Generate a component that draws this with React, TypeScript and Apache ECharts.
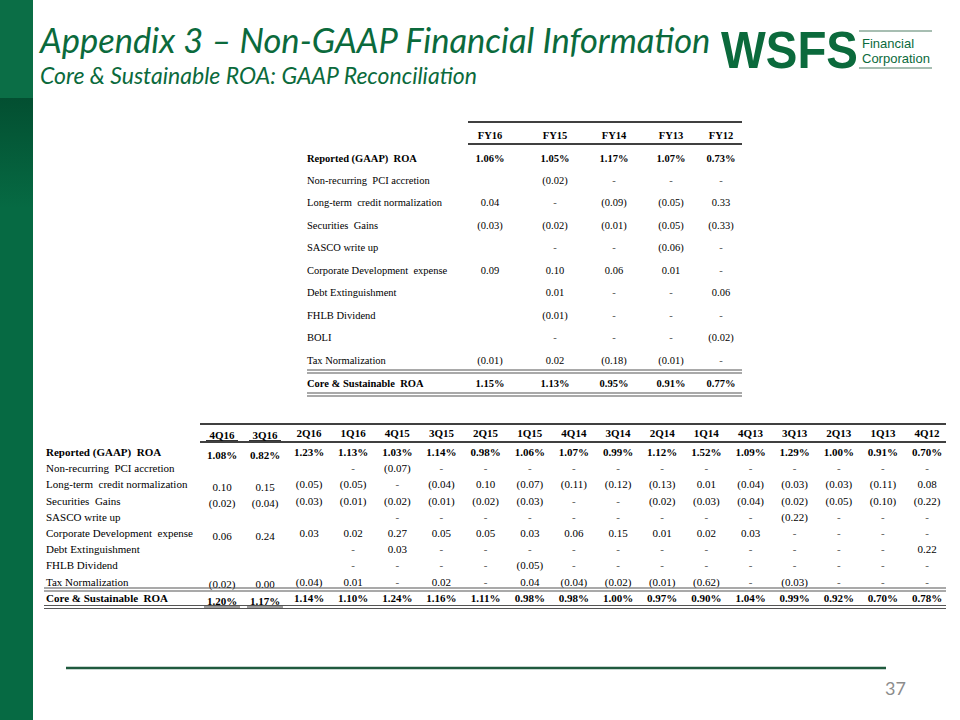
import React, { useEffect, useRef } from "react";
import * as echarts from "echarts";

const titleText = "Appendix 3 – Non-GAAP Financial Information";
const subtitleText = "Core & Sustainable ROA: GAAP Reconciliation";
const pageNumber = "37";

const annualColumns = ["FY16", "FY15", "FY14", "FY13", "FY12"];
const annualRowLabels = [
  "Reported (GAAP)  ROA",
  "Non-recurring  PCI accretion",
  "Long-term  credit normalization",
  "Securities  Gains",
  "SASCO write up",
  "Corporate Development  expense",
  "Debt Extinguishment",
  "FHLB Dividend",
  "BOLI",
  "Tax Normalization",
  "Core & Sustainable  ROA",
];
const annualReported = ["1.06%", "1.05%", "1.17%", "1.07%", "0.73%"];
const annualPci = ["", "(0.02)", "-", "-", "-"];
const annualCredit = ["0.04", "-", "(0.09)", "(0.05)", "0.33"];
const annualSecurities = ["(0.03)", "(0.02)", "(0.01)", "(0.05)", "(0.33)"];
const annualSasco = ["", "-", "-", "(0.06)", "-"];
const annualCorpDev = ["0.09", "0.10", "0.06", "0.01", "-"];
const annualDebt = ["", "0.01", "-", "-", "0.06"];
const annualFhlb = ["", "(0.01)", "-", "-", "-"];
const annualBoli = ["", "-", "-", "-", "(0.02)"];
const annualTax = ["(0.01)", "0.02", "(0.18)", "(0.01)", "-"];
const annualCore = ["1.15%", "1.13%", "0.95%", "0.91%", "0.77%"];

const quarterColumns = [
  "4Q16", "3Q16", "2Q16", "1Q16", "4Q15", "3Q15", "2Q15", "1Q15", "4Q14",
  "3Q14", "2Q14", "1Q14", "4Q13", "3Q13", "2Q13", "1Q13", "4Q12",
];
const quarterRowLabels = [
  "Reported (GAAP)  ROA",
  "Non-recurring  PCI accretion",
  "Long-term  credit normalization",
  "Securities  Gains",
  "SASCO write up",
  "Corporate Development  expense",
  "Debt Extinguishment",
  "FHLB Dividend",
  "Tax Normalization",
  "Core & Sustainable  ROA",
];
const quarterReported = ["1.08%", "0.82%", "1.23%", "1.13%", "1.03%", "1.14%", "0.98%", "1.06%", "1.07%", "0.99%", "1.12%", "1.52%", "1.09%", "1.29%", "1.00%", "0.91%", "0.70%"];
const quarterPci = ["", "", "", "-", "(0.07)", "-", "-", "-", "-", "-", "-", "-", "-", "-", "-", "-", "-"];
const quarterCredit = ["0.10", "0.15", "(0.05)", "(0.05)", "-", "(0.04)", "0.10", "(0.07)", "(0.11)", "(0.12)", "(0.13)", "0.01", "(0.04)", "(0.03)", "(0.03)", "(0.11)", "0.08"];
const quarterSecurities = ["(0.02)", "(0.04)", "(0.03)", "(0.01)", "(0.02)", "(0.01)", "(0.02)", "(0.03)", "-", "-", "(0.02)", "(0.03)", "(0.04)", "(0.02)", "(0.05)", "(0.10)", "(0.22)"];
const quarterSasco = ["", "", "", "", "-", "-", "-", "-", "-", "-", "-", "-", "-", "(0.22)", "-", "-", "-"];
const quarterCorpDev = ["0.06", "0.24", "0.03", "0.02", "0.27", "0.05", "0.05", "0.03", "0.06", "0.15", "0.01", "0.02", "0.03", "-", "-", "-", "-"];
const quarterDebt = ["", "", "", "-", "0.03", "-", "-", "-", "-", "-", "-", "-", "-", "-", "-", "-", "0.22"];
const quarterFhlb = ["", "", "", "-", "-", "-", "-", "(0.05)", "-", "-", "-", "-", "-", "-", "-", "-", "-"];
const quarterTax = ["(0.02)", "0.00", "(0.04)", "0.01", "-", "0.02", "-", "0.04", "(0.04)", "(0.02)", "(0.01)", "(0.62)", "-", "(0.03)", "-", "-", "-"];
const quarterCore = ["1.20%", "1.17%", "1.14%", "1.10%", "1.24%", "1.16%", "1.11%", "0.98%", "0.98%", "1.00%", "0.97%", "0.90%", "1.04%", "0.99%", "0.92%", "0.70%", "0.78%"];

const GREEN = "#0b6a3c";
const SERIF = "'Liberation Serif', 'Times New Roman', serif";

export default function App() {
  const ref = useRef<HTMLDivElement>(null);
  useEffect(() => {
    if (!ref.current) return;
    const chart = echarts.init(ref.current, null, { renderer: "svg" });
    const els: any[] = [];

    // left bar
    els.push({ type: "rect", shape: { x: 0, y: 0, width: 33, height: 720 }, style: { fill: "#066a43" } });
    els.push({ type: "rect", shape: { x: 0, y: 0, width: 33, height: 98 }, style: { fill: "#0b6e46" } });
    els.push({
      type: "rect",
      shape: { x: 0, y: 98, width: 33, height: 110 },
      style: {
        fill: new echarts.graphic.LinearGradient(0, 0, 0, 1, [
          { offset: 0, color: "#034f31" },
          { offset: 1, color: "#066a43" },
        ]),
      },
    });

    // titles
    els.push({ type: "text", x: 40, y: 39, style: { text: titleText, font: "italic 34.5px Lato", fill: GREEN, verticalAlign: "middle" } });
    els.push({ type: "text", x: 40, y: 75, style: { text: subtitleText, font: "italic 23px Lato", fill: GREEN, verticalAlign: "middle" } });

    // logo
    els.push({ type: "text", x: 721, y: 50, scaleX: 0.93, style: { text: "WSFS", font: "900 51px 'Liberation Sans'", fill: GREEN, verticalAlign: "middle" } });
    els.push({ type: "line", shape: { x1: 859, y1: 31, x2: 932, y2: 31 }, style: { stroke: "#8aa898", lineWidth: 1.5 } });
    els.push({ type: "line", shape: { x1: 859, y1: 68, x2: 932, y2: 68 }, style: { stroke: "#8aa898", lineWidth: 1.5 } });
    els.push({ type: "text", x: 862, y: 43, style: { text: "Financial", font: "13px 'Liberation Sans'", fill: GREEN, verticalAlign: "middle" } });
    els.push({ type: "text", x: 862, y: 58, style: { text: "Corporation", font: "13px 'Liberation Sans'", fill: GREEN, verticalAlign: "middle" } });

    // ---------- annual table ----------
    const aColX = [490, 555, 614, 671, 721];
    const aLabelX = 307;
    const aHeaderY = 135;
    const aRowY0 = 158;
    const aRowStep = 22.45;
    const annualRows = [
      annualReported, annualPci, annualCredit, annualSecurities, annualSasco,
      annualCorpDev, annualDebt, annualFhlb, annualBoli, annualTax, annualCore,
    ];
    const hline = (x1: number, x2: number, y: number, w: number, c: string) =>
      els.push({ type: "line", shape: { x1, y1: y, x2, y2: y }, style: { stroke: c, lineWidth: w } });
    const dline = (x1: number, x2: number, y: number) => {
      hline(x1, x2, y, 1.2, "#555");
      hline(x1, x2, y + 3, 1.2, "#555");
    };

    hline(468, 742, 122, 1.5, "#000");
    hline(468, 742, 144, 1.5, "#000");
    annualColumns.forEach((c, i) =>
      els.push({ type: "text", x: aColX[i], y: aHeaderY, style: { text: c, font: `bold 10.5px ${SERIF}`, fill: "#000", align: "center", verticalAlign: "middle" } })
    );
    annualRows.forEach((row, r) => {
      const y = r === annualRows.length - 1 ? 383 : aRowY0 + r * aRowStep;
      const bold = r === 0 || r === annualRows.length - 1;
      els.push({ type: "text", x: aLabelX, y, style: { text: annualRowLabels[r], font: `${bold ? "bold " : ""}10.5px ${SERIF}`, fill: "#000", verticalAlign: "middle" } });
      row.forEach((v, i) => {
        if (!v) return;
        els.push({ type: "text", x: aColX[i], y, style: { text: v, font: `${bold ? "bold " : ""}10.5px ${SERIF}`, fill: v === "-" ? "#555" : "#000", align: "center", verticalAlign: "middle" } });
      });
    });
    dline(307, 742, 370);
    dline(307, 742, 393);

    // ---------- quarterly table ----------
    const qColX = quarterColumns.map((_, i) => (i === 0 ? 222 : i === 1 ? 265 : 309 + (i - 2) * 44.15));
    const qLabelX = 46;
    const qRows = [
      quarterReported, quarterPci, quarterCredit, quarterSecurities, quarterSasco,
      quarterCorpDev, quarterDebt, quarterFhlb, quarterTax, quarterCore,
    ];
    const qRowY = (r: number) => (r === qRows.length - 1 ? 598 : 452 + r * 16.2);
    hline(200, 946, 424, 1.5, "#000");
    hline(200, 946, 442, 1.5, "#000");
    quarterColumns.forEach((c, i) => {
      const off = i < 2 ? 1.5 : 0;
      els.push({ type: "text", x: qColX[i], y: 433 + off, style: { text: c, font: `bold 11px ${SERIF}`, fill: "#000", align: "center", verticalAlign: "middle" } });
      if (i < 2) hline(qColX[i] - 16, qColX[i] + 16, 440.5, 0.8, "#000");
    });
    qRows.forEach((row, r) => {
      const y = qRowY(r);
      const bold = r === 0 || r === qRows.length - 1;
      els.push({ type: "text", x: qLabelX, y, style: { text: quarterRowLabels[r], font: `${bold ? "bold " : ""}11px ${SERIF}`, fill: "#000", verticalAlign: "middle" } });
      row.forEach((v, i) => {
        if (!v) return;
        const off = i < 2 ? 2.5 : 0;
        els.push({ type: "text", x: qColX[i], y: y + off, style: { text: v, font: `${bold ? "bold " : ""}11px ${SERIF}`, fill: v === "-" ? "#555" : "#000", align: "center", verticalAlign: "middle" } });
        if (i < 2 && r === qRows.length - 1) hline(qColX[i] - 18, qColX[i] + 18, y + off + 6.5, 0.8, "#000");
      });
    });
    dline(44, 946, 588);
    dline(44, 946, 605.5);

    // footer
    els.push({ type: "line", shape: { x1: 66, y1: 668, x2: 886, y2: 668 }, style: { stroke: "#1f5a3e", lineWidth: 2.5 } });
    els.push({ type: "text", x: 906, y: 688, style: { text: pageNumber, font: "18px Lato", fill: "#8c8c8c", align: "right", verticalAlign: "middle" } });

    chart.setOption({
      animation: false,
      backgroundColor: "#ffffff",
      graphic: { elements: els },
    });
    return () => chart.dispose();
  }, []);
  return <div ref={ref} style={{ position: "fixed", left: 0, top: 0, width: 960, height: 720 }} />;
}
